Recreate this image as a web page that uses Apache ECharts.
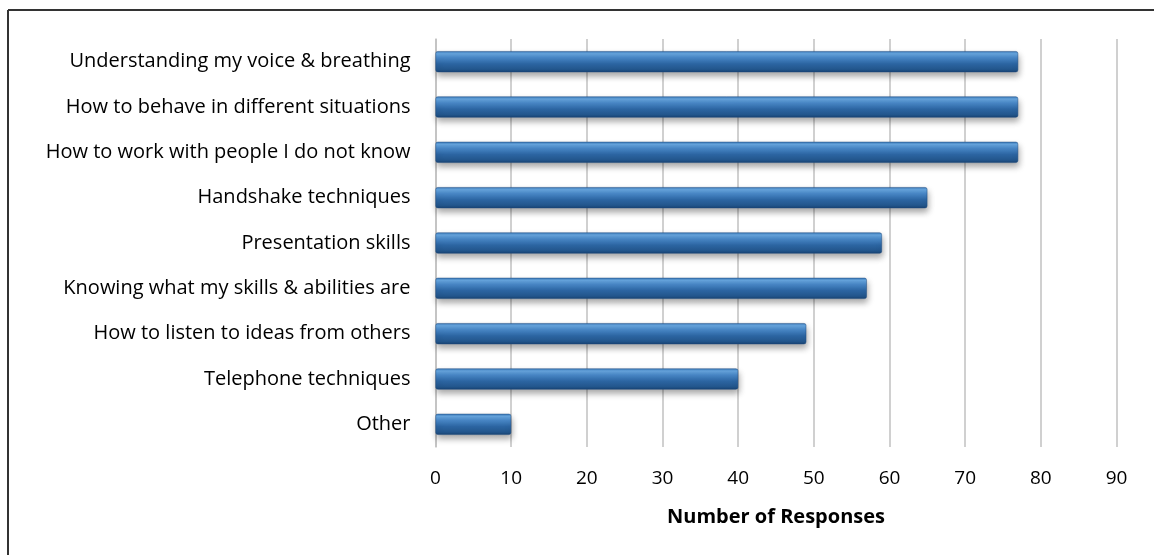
<!DOCTYPE html>
<html>
<head>
<meta charset="utf-8">
<script src="https://cdn.jsdelivr.net/npm/echarts@6/dist/echarts.min.js"></script>
<style>
  html, body { margin: 0; padding: 0; background: #fff; }
  #chart { width: 1154px; height: 555px; }
</style>
</head>
<body>
<div id="chart"></div>
<script>
// Skills respondents wanted to develop, top to bottom
const categories = [
  'Understanding my voice & breathing',
  'How to behave in different situations',
  'How to work with people I do not know',
  'Handshake techniques',
  'Presentation skills',
  'Knowing what my skills & abilities are',
  'How to listen to ideas from others',
  'Telephone techniques',
  'Other'
];
const responses = [77, 77, 77, 65, 59, 57, 49, 40, 10];
const axisTitle = 'Number of Responses';

const FONT = '"Open Sans", Lato, sans-serif';

// Bevelled blue bar fill: light top edge, mid-blue body, dark bottom edge
const barFill = new echarts.graphic.LinearGradient(0, 0, 0, 1, [
  { offset: 0.00, color: '#3a78b8' },
  { offset: 0.12, color: '#66a5de' },
  { offset: 0.30, color: '#4a89c9' },
  { offset: 0.60, color: '#2c65a2' },
  { offset: 0.88, color: '#22558b' },
  { offset: 1.00, color: '#184170' }
]);

const chart = echarts.init(document.getElementById('chart'), null, { renderer: 'canvas' });
chart.setOption({
  backgroundColor: '#ffffff',
  animation: false,
  grid: { left: 435.5, right: 37.5, top: 39, bottom: 108, containLabel: false },
  xAxis: {
    type: 'value',
    min: 0,
    max: 90,
    interval: 10,
    axisLine: { show: false },
    axisTick: { show: false },
    splitLine: { show: true, lineStyle: { color: '#c0c0c0', width: 1.5 } },
    axisLabel: { color: '#000', fontFamily: FONT, fontSize: 19, margin: 22 },
    name: axisTitle,
    nameLocation: 'middle',
    nameGap: 60,
    nameTextStyle: { color: '#000', fontFamily: FONT, fontSize: 20, fontWeight: 'bold' }
  },
  yAxis: {
    type: 'category',
    data: categories,
    inverse: true,
    axisLine: { show: true, lineStyle: { color: '#c0c0c0', width: 1.5 } },
    axisTick: { show: false },
    axisLabel: { color: '#000', fontFamily: FONT, fontSize: 20, margin: 25 }
  },
  series: [{
    type: 'bar',
    data: responses,
    barWidth: 21,
    itemStyle: {
      color: barFill,
      borderColor: '#1f4d80',
      borderWidth: 0.5,
      borderRadius: 2,
      shadowColor: 'rgba(0,0,0,0.35)',
      shadowBlur: 6,
      shadowOffsetY: 4,
      shadowOffsetX: 1
    }
  }],
  graphic: [
    // frame around the chart area (top and left edges)
    { type: 'line', shape: { x1: 8, y1: 10, x2: 1154, y2: 10 }, style: { stroke: '#333', lineWidth: 2 } },
    { type: 'line', shape: { x1: 8, y1: 10, x2: 8, y2: 555 }, style: { stroke: '#333', lineWidth: 2 } }
  ]
});
</script>
</body>
</html>
